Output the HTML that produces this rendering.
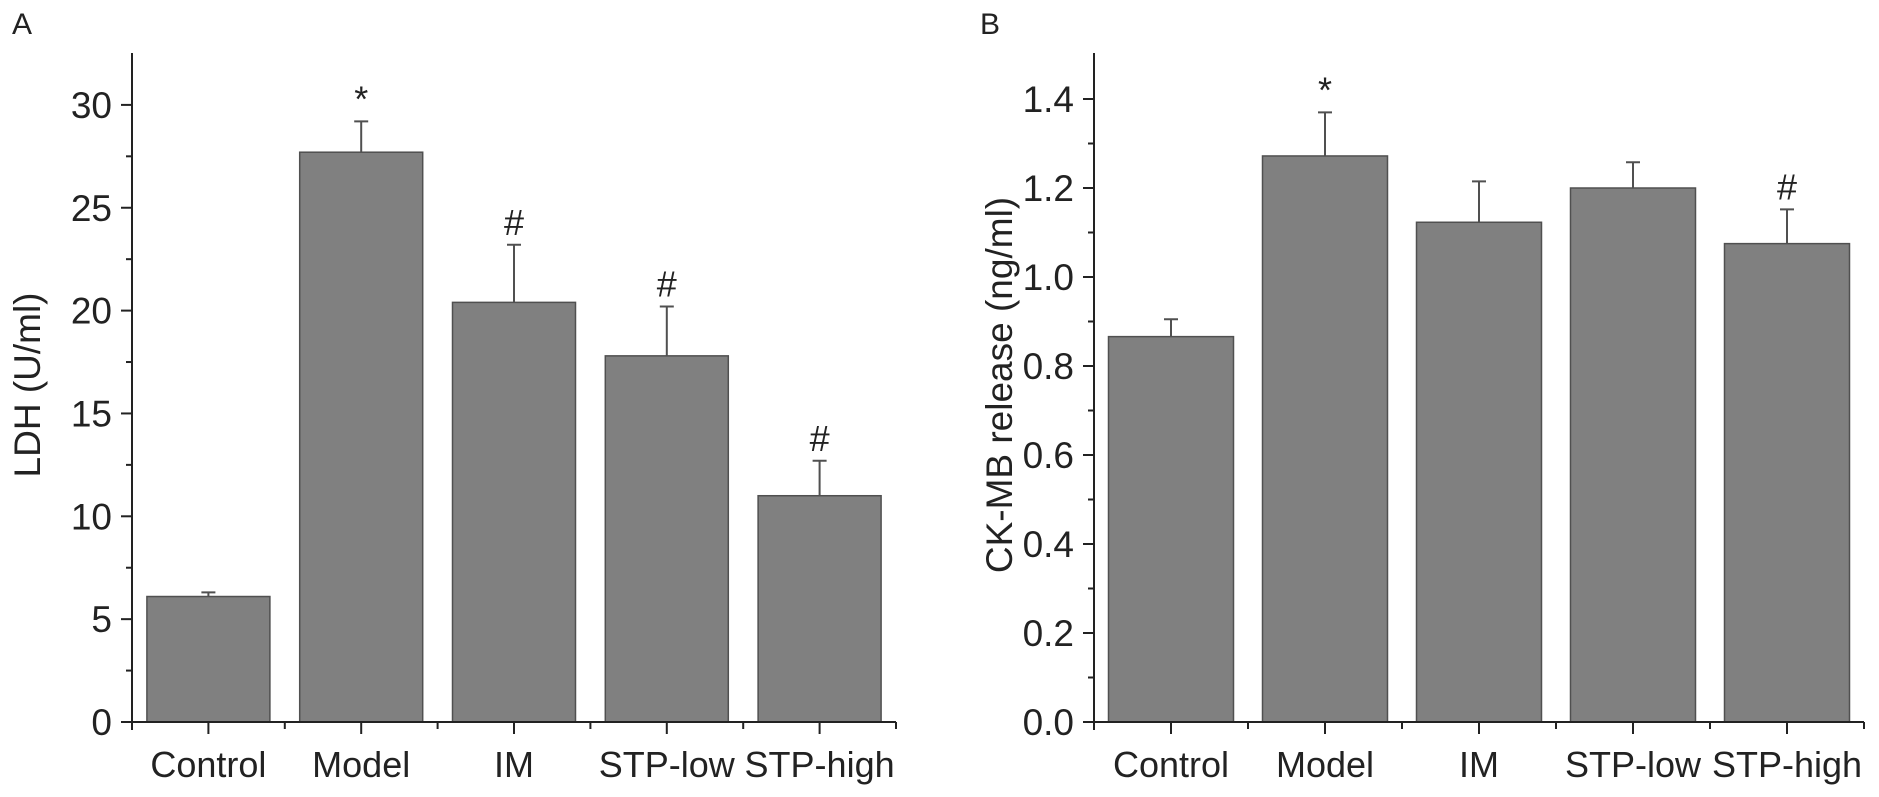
<!DOCTYPE html>
<html><head><meta charset="utf-8"><style>
html,body{margin:0;padding:0;background:#fff;}
svg{display:block;font-family:"Liberation Sans",Arial,sans-serif;}
</style></head><body>
<svg id="chart" width="1879" height="797" viewBox="0 0 1879 797" xmlns="http://www.w3.org/2000/svg"></svg>
<script>
const categories = ["Control","Model","IM","STP-low","STP-high"];
const ldhValues = [6.1, 27.7, 20.4, 17.8, 11.0];
const ldhErrTop = [6.3, 29.2, 23.2, 20.2, 12.7];
const ldhMarks = ["", "*", "#", "#", "#"];
const ldhTicks = [0,5,10,15,20,25,30];
const ckValues = [0.866, 1.272, 1.123, 1.2, 1.075];
const ckErrTop = [0.905, 1.37, 1.215, 1.258, 1.152];
const ckMarks = ["", "*", "", "", "#"];
const ckTicks = [0,0.2,0.4,0.6,0.8,1.0,1.2,1.4];
const ckTickLabels = ["0.0","0.2","0.4","0.6","0.8","1.0","1.2","1.4"];

const NS = "http://www.w3.org/2000/svg";
const svg = document.getElementById('chart');
function mk(tag, attrs, parent){
  const e = document.createElementNS(NS, tag);
  for (const k in attrs) e.setAttribute(k, attrs[k]);
  (parent||svg).appendChild(e);
  return e;
}

function panel(cfg){
  const g = mk('g', {});
  
  
  const y = v => cfg.y0 - (v - cfg.vmin) * cfg.scale;
  const slot = (cfg.x1 - cfg.x0) / categories.length;
  const xc = i => cfg.x0 + slot * (i + 0.5);
  categories.forEach((c, i) => {
    const top = y(cfg.values[i]);
    const b = mk('rect', {x: xc(i) - cfg.bw/2, y: top, width: cfg.bw, height: cfg.y0 - top, fill: '#808080', stroke: '#505050', 'stroke-width': 1.5}, g);
    
    
    const et = y(cfg.err[i]);
    const eb = mk('path', {d: `M${xc(i)},${top} V${et} M${xc(i)-7},${et} H${xc(i)+7}`, stroke: '#505050', 'stroke-width': 2, fill: 'none'}, g);
    
    
    if (cfg.marks[i]) {
      const m = mk('text', {x: xc(i), y: et - 10, 'text-anchor': 'middle', 'font-size': 36, fill: '#222'}, g);
      m.textContent = cfg.marks[i];
      
      
    }
  });
  const ya = mk('line', {x1: cfg.x0, y1: 53, x2: cfg.x0, y2: cfg.y0 + 8, stroke: '#222', 'stroke-width': 2}, g);
  
  
  cfg.ticks.forEach((t, i) => {
    const ty = y(t);
    mk('line', {x1: cfg.x0 - 11, y1: ty, x2: cfg.x0, y2: ty, stroke: '#222', 'stroke-width': 2}, g);
    const lb = mk('text', {x: cfg.x0 - 20, y: ty + 13, 'text-anchor': 'end', 'font-size': 37, fill: '#222'}, g);
    lb.textContent = cfg.tickLabels[i];
    
    
    const my = y(t + cfg.step / 2);
    if (my > 56) mk('line', {x1: cfg.x0 - 6, y1: my, x2: cfg.x0, y2: my, stroke: '#222', 'stroke-width': 2}, g);
  });
  const xa = mk('line', {x1: cfg.x0 - 8, y1: cfg.y0, x2: cfg.x1, y2: cfg.y0, stroke: '#222', 'stroke-width': 2}, g);
  
  
  categories.forEach((c, i) => {
    mk('line', {x1: xc(i), y1: cfg.y0, x2: xc(i), y2: cfg.y0 + 12, stroke: '#222', 'stroke-width': 2}, g);
    mk('line', {x1: cfg.x0 + slot*(i+1), y1: cfg.y0, x2: cfg.x0 + slot*(i+1), y2: cfg.y0 + 7, stroke: '#222', 'stroke-width': 2}, g);
    const lb = mk('text', {x: xc(i), y: cfg.y0 + 55, 'text-anchor': 'middle', 'font-size': 36, fill: '#222'}, g);
    lb.textContent = c;
    
    
  });
  const tt = mk('text', {x: cfg.titleX, y: cfg.titleY, 'text-anchor': 'middle', 'font-size': 37, fill: '#222', transform: `rotate(-90 ${cfg.titleX} ${cfg.titleY})`}, g);
  tt.textContent = cfg.title;
  
  
  const pl = mk('text', {x: cfg.letterX, y: 34, 'font-size': 30, fill: '#222'}, g);
  pl.textContent = cfg.letter;
  
  
}

panel({name:'panel-a-ldh', x0:132, x1:896, y0:722, vmin:0, scale:20.57, bw:123,
  values:ldhValues, err:ldhErrTop, marks:ldhMarks, ticks:ldhTicks, tickLabels:ldhTicks.map(String), step:5,
  title:'LDH (U/ml)', titleX:40, titleY:385, letter:'A', letterX:12});
panel({name:'panel-b-ckmb', x0:1094, x1:1864, y0:722, vmin:0, scale:445, bw:125,
  values:ckValues, err:ckErrTop, marks:ckMarks, ticks:ckTicks, tickLabels:ckTickLabels, step:0.2,
  title:'CK-MB release (ng/ml)', titleX:1012, titleY:385, letter:'B', letterX:980});
</script>
</body></html>
